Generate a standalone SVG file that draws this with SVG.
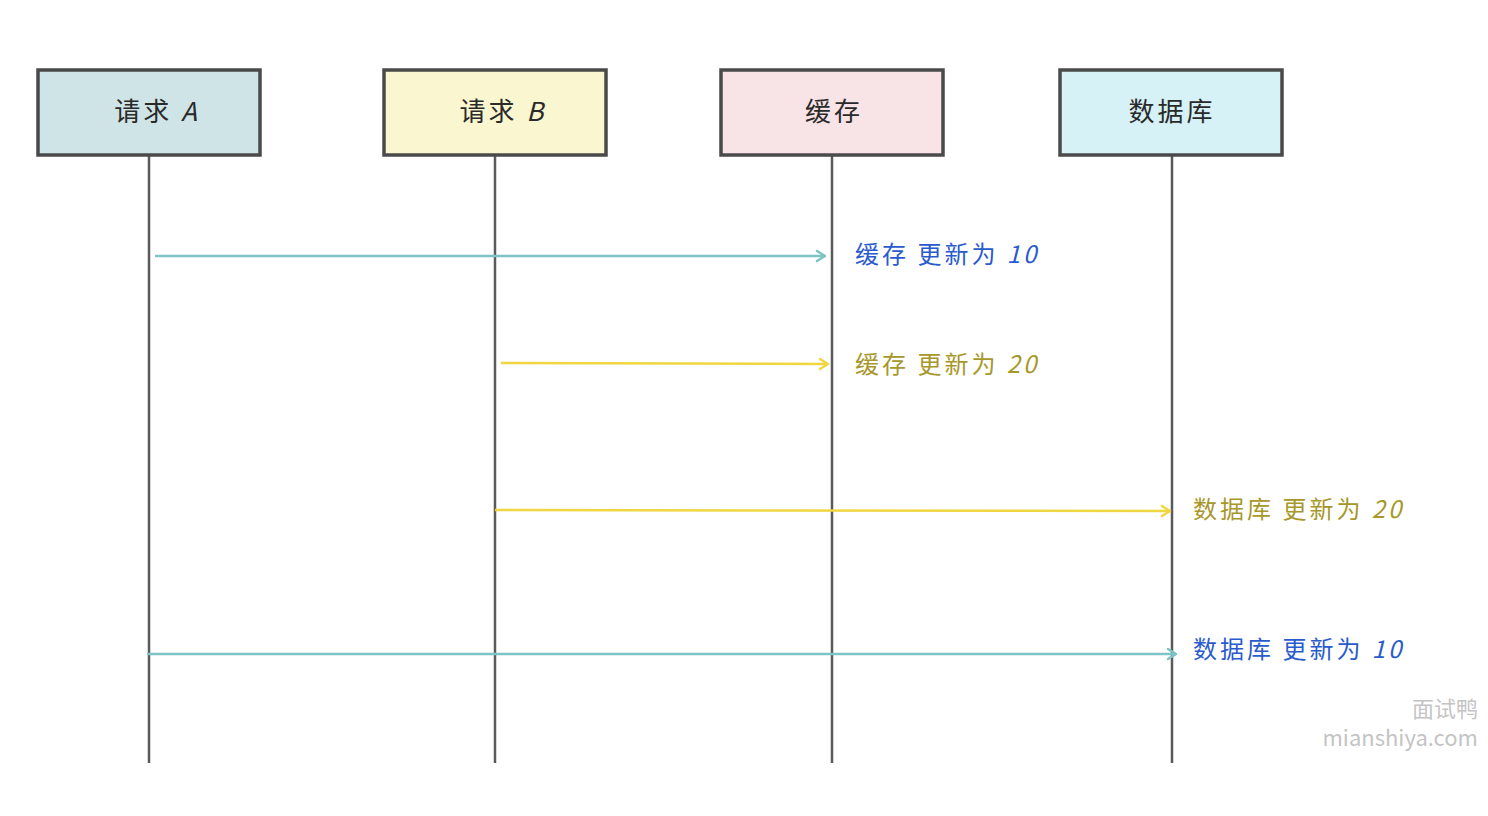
<svg xmlns="http://www.w3.org/2000/svg" width="1488" height="816" viewBox="0 0 1488 816">
<style>
.box{stroke:#4a4a4a;stroke-width:3.5}
.life{stroke:#5a5a5a;stroke-width:2.5;fill:none}
.title{font-family:"Noto Sans CJK SC","Noto Sans",sans-serif;font-size:26px;fill:#2a2a2a;text-anchor:middle;letter-spacing:3px}
.lbl{font-family:"Noto Sans CJK SC","Noto Sans",sans-serif;font-size:24px;letter-spacing:3px}
.blue{fill:#2a5bcc}
.olive{fill:#a8972a}
.teal{stroke:#7ec3c5;stroke-width:2.5;fill:none}
.yel{stroke:#f0d640;stroke-width:2.5;fill:none}
.wm{font-family:"Noto Sans CJK SC","Liberation Sans",sans-serif;fill:#c4c4c4;text-anchor:end}
</style>
<defs>
<marker id="ahT" markerWidth="14" markerHeight="14" refX="11" refY="7" orient="auto" markerUnits="userSpaceOnUse">
<polyline points="3,2 11,7 3,12" fill="none" stroke="#7ec3c5" stroke-width="2.5" stroke-linecap="round" stroke-linejoin="round"/>
</marker>
<marker id="ahY" markerWidth="14" markerHeight="14" refX="11" refY="7" orient="auto" markerUnits="userSpaceOnUse">
<polyline points="3,2 11,7 3,12" fill="none" stroke="#f0d640" stroke-width="2.5" stroke-linecap="round" stroke-linejoin="round"/>
</marker>
</defs>
<rect width="1488" height="816" fill="#ffffff"/>
<g id="lifelines">
<line class="life" x1="149" y1="155" x2="149" y2="763"/>
<line class="life" x1="495" y1="155" x2="495" y2="763"/>
<line class="life" x1="832" y1="155" x2="832" y2="763"/>
<line class="life" x1="1172" y1="155" x2="1172" y2="763"/>
</g>
<g id="node-a"><rect class="box" x="38" y="70" width="222" height="85" fill="#cfe4e6"/><text class="title" x="157" y="121">请求 <tspan font-style="italic">A</tspan></text></g>
<g id="node-b"><rect class="box" x="384" y="70" width="222" height="85" fill="#faf6cf"/><text class="title" x="503" y="121">请求 <tspan font-style="italic">B</tspan></text></g>
<g id="node-cache"><rect class="box" x="721" y="70" width="222" height="85" fill="#f8e4e6"/><text class="title" x="834" y="121">缓存</text></g>
<g id="node-db"><rect class="box" x="1060" y="70" width="222" height="85" fill="#d6f2f6"/><text class="title" x="1172" y="121">数据库</text></g>
<g id="connectors">
<line class="teal" x1="155" y1="256" x2="825" y2="256" marker-end="url(#ahT)"/>
<line class="yel" x1="501" y1="363" x2="828" y2="364" marker-end="url(#ahY)"/>
<line class="yel" x1="495" y1="510" x2="1170" y2="511" marker-end="url(#ahY)"/>
<line class="teal" x1="147" y1="654" x2="1176" y2="654" marker-end="url(#ahT)"/>
</g>
<g id="labels">
<text class="lbl blue" x="855" y="263">缓存 更新为 <tspan font-style="italic">10</tspan></text>
<text class="lbl olive" x="855" y="373">缓存 更新为 <tspan font-style="italic">20</tspan></text>
<text class="lbl olive" x="1193" y="518">数据库 更新为 <tspan font-style="italic">20</tspan></text>
<text class="lbl blue" x="1193" y="658">数据库 更新为 <tspan font-style="italic">10</tspan></text>
</g>
<g id="watermark">
<text class="wm" x="1478" y="717" font-size="22">面试鸭</text>
<text class="wm" x="1478" y="746" font-size="22">mianshiya.com</text>
</g>
</svg>
